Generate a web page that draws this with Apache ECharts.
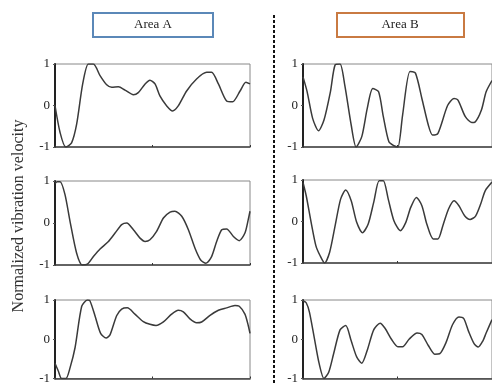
<!DOCTYPE html>
<html>
<head>
<meta charset="utf-8">
<script src="https://cdn.jsdelivr.net/npm/echarts@6/dist/echarts.min.js"></script>
<style>html,body{margin:0;padding:0;background:#fff}#c{width:492px;height:385px}</style>
</head>
<body>
<div id="c"></div>
<script>
// Panel titles and tick labels
const areaTitles = ['Area A', 'Area B'];
const yTicks = [-1, 0, 1];
const yAxisName = 'Normalized vibration velocity';

// Area A, row 1
const a1X = [0,2.6,5.5,8.5,11.1,14.2,17.1,19.7,23.1,26.5,29.1,32.5,35.9,40.2,42.7,46.2,48.7,51.3,53.8,57.3,60.3,63.2,67.5,72.6,77.8,80.3,83.8,88.0,91.1,94.9,97.9,100];
const a1Y = [0,-0.65,-1,-0.9,-0.45,0.52,1,1,0.72,0.5,0.44,0.45,0.37,0.26,0.31,0.52,0.61,0.52,0.23,-0.01,-0.13,-0.01,0.35,0.64,0.8,0.8,0.52,0.11,0.09,0.35,0.56,0.52];
// Area B, row 1
const b1X = [0,2.2,5.1,8.2,11.1,14.5,17.0,19.6,22.1,25.5,28.1,31.1,34.0,36.9,40.0,42.5,45.4,48.1,50.2,52.7,56.6,59.5,62.9,66.3,68.5,71.4,76.5,79.9,82.0,85.9,89.3,91.0,94.4,96.9,100];
const b1Y = [0.69,0.33,-0.31,-0.61,-0.35,0.33,0.98,1,0.49,-0.47,-1,-0.75,-0.07,0.41,0.33,-0.27,-0.87,-0.97,-1,-0.23,0.82,0.78,0.17,-0.47,-0.71,-0.67,0,0.17,0.13,-0.27,-0.41,-0.4,-0.11,0.33,0.6];
// Area A, row 2
const a2X = [0,1.2,2.6,5.1,7.7,11.1,14.0,16.6,19.7,23.1,27.4,30.8,34.2,36.8,40.2,43.6,46.2,48.7,52.1,55.6,59.0,61.5,65.0,68.4,71.8,74.7,77.4,80.3,82.9,85.5,88.0,91.5,94.5,97.4,99.1,100];
const a2Y = [0.94,0.98,0.98,0.68,0.04,-0.72,-1,-0.98,-0.8,-0.62,-0.44,-0.24,-0.04,0,-0.16,-0.36,-0.44,-0.4,-0.2,0.12,0.26,0.28,0.16,-0.16,-0.6,-0.88,-0.96,-0.8,-0.44,-0.16,-0.14,-0.32,-0.42,-0.24,0.08,0.28];
// Area B, row 2
const b2X = [0,1.7,4.3,6.8,9.0,11.4,14.1,17.0,19.9,22.6,25.5,28.4,31.5,34.5,37.4,40.3,42.5,45.1,48.1,51.5,54.4,57.0,60.0,62.9,65.5,68.9,71.4,74.0,77.0,79.9,82.5,85.5,88.4,91.3,94.0,96.4,100];
const b2Y = [0.94,0.62,-0.02,-0.58,-0.82,-1,-0.74,-0.1,0.54,0.76,0.5,-0.02,-0.27,-0.06,0.46,0.98,0.98,0.54,0.02,-0.22,-0.02,0.34,0.58,0.38,-0.06,-0.42,-0.42,-0.1,0.3,0.5,0.38,0.14,0.05,0.13,0.42,0.74,0.95];
// Area A, row 3
const a3X = [0,1.7,3.4,5.6,7.7,10.3,13.7,16.6,17.9,20.5,23.4,26.2,28.2,31.6,34.2,37.1,41.0,45.3,48.7,51.8,55.6,59.8,63.2,65.8,69.2,72.6,75.2,79.5,83.8,88.0,92.3,94.5,97.4,99.1,100];
const a3Y = [-0.61,-0.81,-1,-1,-0.73,-0.21,0.84,1,0.98,0.6,0.15,0.03,0.11,0.6,0.77,0.8,0.64,0.45,0.38,0.35,0.44,0.64,0.74,0.7,0.52,0.42,0.44,0.61,0.74,0.8,0.86,0.84,0.64,0.35,0.15];
// Area B, row 3
const b3X = [0,1.7,3.4,5.95,8.5,11.1,13.6,16.2,19.6,22.6,25.5,28.4,31.1,34.0,37.4,40.8,43.4,46.8,50.2,52.7,56.1,60.4,62.9,66.3,69.7,72.3,75.7,79.1,82.5,85.0,87.6,90.6,92.7,95.2,96.9,100];
const b3Y = [0.98,0.93,0.69,0.04,-0.61,-1,-0.84,-0.37,0.24,0.35,-0.04,-0.45,-0.61,-0.28,0.24,0.41,0.28,0,-0.19,-0.19,0,0.16,0.12,-0.16,-0.38,-0.37,-0.08,0.37,0.57,0.53,0.2,-0.12,-0.2,-0.04,0.16,0.5];

const panels = [
  {x: a1X, y: a1Y}, {x: b1X, y: b1Y},
  {x: a2X, y: a2Y}, {x: b2X, y: b2Y},
  {x: a3X, y: a3Y}, {x: b3X, y: b3Y}
];
const gridBoxes = [
  {left: 55, top: 64, width: 195, height: 83},
  {left: 303, top: 64, width: 196, height: 83},
  {left: 55, top: 181, width: 195, height: 84},
  {left: 303, top: 180, width: 196, height: 83},
  {left: 55, top: 300, width: 195, height: 82},
  {left: 303, top: 300, width: 196, height: 82}
];
const serif = '"Liberation Serif", "DejaVu Serif", serif';

const chart = echarts.init(document.getElementById('c'), null, {renderer: 'canvas'});
const option = {
  animation: false,
  backgroundColor: '#fff',
  grid: gridBoxes.map(g => Object.assign({show: true, borderColor: '#888', borderWidth: 1, backgroundColor: 'transparent'}, g)),
  xAxis: panels.map((p, i) => ({
    type: 'value', gridIndex: i, min: 0, max: 100, interval: 50,
    axisLine: {show: true, onZero: false, lineStyle: {color: '#444', width: 1.5}},
    axisTick: {show: true, inside: true, length: 2, lineStyle: {color: '#333'}},
    axisLabel: {show: false}, splitLine: {show: false}
  })),
  yAxis: panels.map((p, i) => ({
    type: 'value', gridIndex: i, min: yTicks[0], max: yTicks[yTicks.length - 1], interval: 1,
    axisLine: {show: true, onZero: false, lineStyle: {color: '#222', width: 2}},
    axisTick: {show: true, inside: false, length: 2, lineStyle: {color: '#555'}},
    axisLabel: {show: true, margin: 5, color: '#222', fontFamily: serif, fontSize: 13},
    splitLine: {show: false}
  })),
  series: panels.map((p, i) => ({
    type: 'line', xAxisIndex: i, yAxisIndex: i, symbol: 'none', smooth: 0.25,
    lineStyle: {color: '#3a3a3a', width: 1.5},
    data: p.x.map((v, k) => [v, p.y[k]])
  })),
  graphic: [
    {type: 'rect', shape: {x: 93, y: 13, width: 120, height: 24}, style: {fill: '#fff', stroke: '#5b88b8', lineWidth: 2}},
    {type: 'text', x: 153, y: 25, style: {text: areaTitles[0], font: '13px ' + serif, fill: '#222', align: 'center', verticalAlign: 'middle'}},
    {type: 'rect', shape: {x: 337, y: 13, width: 127, height: 24}, style: {fill: '#fff', stroke: '#c97a42', lineWidth: 2}},
    {type: 'text', x: 400, y: 25, style: {text: areaTitles[1], font: '13px ' + serif, fill: '#222', align: 'center', verticalAlign: 'middle'}},
    {type: 'line', shape: {x1: 274, y1: 15, x2: 274, y2: 385}, style: {stroke: '#111', lineWidth: 2, lineDash: [3, 2]}},
    {type: 'text', x: 19, y: 216, rotation: Math.PI / 2, style: {text: yAxisName, font: '16px ' + serif, fill: '#333', align: 'center', verticalAlign: 'middle'}}
  ]
};
chart.setOption(option);
</script>
</body>
</html>
